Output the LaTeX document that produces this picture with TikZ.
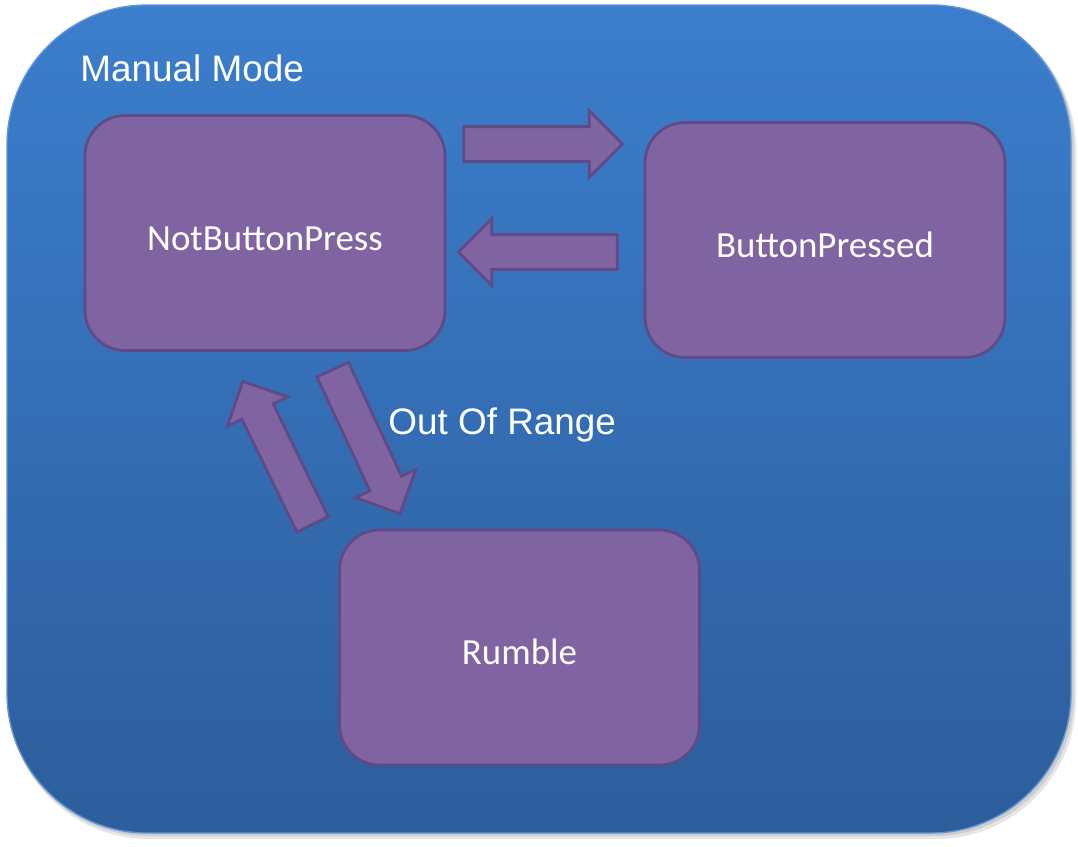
\documentclass[tikz,border=0pt]{standalone}
\usepackage{fontspec}
\setmainfont{Liberation Sans}
\newfontfamily\calfont{Carlito}
\usetikzlibrary{shapes.arrows, positioning}

\definecolor{panetop}{RGB}{59,126,205}
\definecolor{panebot}{RGB}{45,93,155}
\definecolor{paneedge}{RGB}{96,150,215}
\definecolor{statefill}{RGB}{128,100,162}
\definecolor{stateline}{RGB}{95,74,135}

\tikzset{
  state/.style={draw=stateline, fill=statefill, line width=1.6pt, rounded corners=0.8cm,
    minimum width=7.2cm, minimum height=4.7cm, text=white, text height=0.68cm, text depth=0pt,
    font=\calfont\fontsize{21}{25}\selectfont},
  blockarrow/.style={single arrow, draw=stateline, fill=statefill, line width=1.6pt,
    minimum height=3.18cm, minimum width=0pt, inner sep=0pt, inner ysep=0.32cm,
    single arrow head extend=0.32cm},
  caption/.style={text=white, font=\fontsize{21}{25}\selectfont, inner sep=0pt}
}

\begin{document}
\begin{tikzpicture}[x=0.02cm, y=-0.02cm]
    \useasboundingbox (0,0) rectangle (1078,846);
    % panel with shadow
    \fill[black, opacity=0.1, rounded corners=2.8cm] (9,9) rectangle (1076,839);
    \fill[black, opacity=0.1, rounded corners=2.8cm] (8,7) rectangle (1074,836);
    \shade[top color=panetop, bottom color=panebot, draw=paneedge, line width=0.8pt,
      rounded corners=2.8cm] (7,5) rectangle (1071,833);
    \node[caption, anchor=base west] (mode) at (80,81) {Manual Mode};

    % states
    \node[state] (notpress) at (265,233) {NotButtonPress};
    \node[state] (pressed) at (825,240) {ButtonPressed};
    \node[state] (rumble) at (519.5,647.5) {Rumble};

    % transitions
    \node[blockarrow] (topress) at (534.5,144) {};
    \node[blockarrow, rotate=180] (tonot) at (546.5,252) {};
    \node[blockarrow, rotate=116] (fromrumble) at (281.5,460.7) {};
    \node[blockarrow, rotate=-65] (torumble) at (362.6,433.8) {};
    \node[caption, anchor=base west] (range) at (388,434) {Out Of Range};
\end{tikzpicture}
\end{document}
